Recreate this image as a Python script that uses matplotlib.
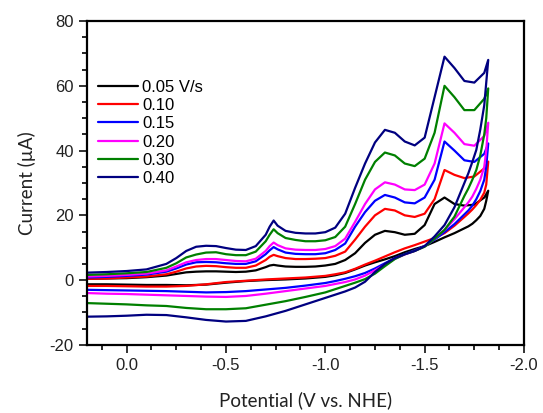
import matplotlib
matplotlib.use("Agg")
import matplotlib.pyplot as plt
from matplotlib.ticker import MultipleLocator, AutoMinorLocator

plt.rcParams['axes.unicode_minus'] = False
plt.rcParams['font.family'] = ['Liberation Sans', 'DejaVu Sans']

# forward scan (0.2 V -> -1.82 V)
x_fwd = [0.2, 0.1, 0.0, -0.1, -0.2, -0.25, -0.3, -0.35, -0.4, -0.45, -0.5,
         -0.55, -0.6, -0.65, -0.7, -0.72, -0.74, -0.76, -0.8, -0.85, -0.9,
         -0.95, -1.0, -1.05, -1.1, -1.15, -1.2, -1.25, -1.3, -1.35, -1.4,
         -1.45, -1.5, -1.55, -1.6, -1.65, -1.7, -1.75, -1.8, -1.82]

# reverse scan (-1.82 V -> 0.2 V)
x_rev = [-1.82, -1.81, -1.8, -1.78, -1.76, -1.74, -1.72, -1.7, -1.65, -1.6,
         -1.55, -1.5, -1.45, -1.4, -1.35, -1.3, -1.25, -1.2, -1.15, -1.1,
         -1.05, -1.0, -0.9, -0.8, -0.7, -0.6, -0.5, -0.4, -0.3, -0.2, -0.1,
         0.0, 0.1, 0.2]

labels = ["0.05 V/s", "0.10", "0.15", "0.20", "0.30", "0.40"]
colors = ["black", "#ff0000", "#0000ff", "#ff00ff", "#008000", "#000080"]

i_fwd_005 = [0.4, 0.5, 0.6, 0.9, 1.4, 1.9, 2.4, 2.6, 2.7, 2.7, 2.6, 2.5, 2.6,
             3.0, 4.0, 4.5, 4.7, 4.5, 4.2, 4.1, 4.1, 4.2, 4.5, 5.0, 6.2, 8.3,
             11.5, 14.0, 15.2, 14.8, 14.0, 14.3, 17.0, 23.5, 25.5, 23.5, 23.0,
             23.3, 25.5, 27.6]
i_fwd_010 = [0.4, 0.5, 0.8, 1.1, 1.8, 2.6, 3.6, 4.2, 4.4, 4.3, 4.0, 3.8, 3.8,
             4.5, 6.2, 7.2, 7.8, 7.4, 6.8, 6.5, 6.5, 6.6, 6.8, 7.5, 8.8, 12.5,
             16.5, 20.0, 22.0, 21.5, 20.0, 19.5, 20.5, 25.0, 34.0, 32.5, 31.5,
             32.0, 34.5, 36.6]
i_fwd_015 = [0.8, 1.0, 1.3, 1.7, 2.6, 3.6, 4.8, 5.5, 5.6, 5.5, 5.2, 5.0, 5.0,
             5.8, 8.0, 9.2, 10.2, 9.5, 8.5, 8.1, 8.0, 8.0, 8.3, 9.3, 11.3,
             16.5, 21.0, 24.5, 26.3, 25.5, 24.0, 23.7, 25.5, 31.0, 42.8, 40.0,
             37.0, 36.5, 39.0, 42.2]
i_fwd_020 = [1.1, 1.3, 1.6, 2.0, 3.0, 4.2, 5.5, 6.2, 6.5, 6.5, 6.2, 5.9, 5.8,
             6.6, 9.0, 10.5, 11.6, 10.8, 9.8, 9.4, 9.3, 9.3, 9.6, 10.5, 12.8,
             18.0, 23.5, 28.0, 30.2, 29.5, 28.0, 27.8, 29.5, 36.0, 48.4, 45.5,
             42.0, 41.5, 44.5, 48.6]
i_fwd_030 = [1.6, 1.8, 2.1, 2.5, 3.8, 5.2, 7.0, 7.9, 8.5, 8.6, 8.0, 7.7, 7.7,
             8.8, 12.0, 14.0, 15.7, 14.5, 13.0, 12.4, 12.0, 12.0, 12.3, 13.3,
             16.5, 23.5, 31.0, 36.5, 39.4, 38.5, 36.0, 35.2, 37.5, 45.5, 60.0,
             56.5, 52.5, 52.5, 56.0, 59.2]
i_fwd_040 = [2.3, 2.5, 2.8, 3.3, 5.0, 6.8, 9.0, 10.3, 10.6, 10.5, 9.9, 9.4,
             9.3, 10.5, 14.0, 16.5, 18.4, 16.8, 15.2, 14.6, 14.4, 14.4, 14.8,
             16.2, 20.5, 28.5, 36.0, 42.5, 46.4, 45.5, 42.8, 41.6, 44.0, 56.5,
             69.0, 65.5, 61.5, 61.0, 64.0, 68.0]

i_rev_005 = [27.6, 24.5, 22.0, 19.8, 18.5, 17.4, 16.6, 16.0, 14.5, 13.2, 11.8,
             10.5, 9.6, 8.6, 7.4, 6.4, 5.5, 4.5, 3.3, 2.2, 1.5, 1.0, 0.5, 0.2,
             0.0, -0.3, -0.8, -1.4, -1.6, -1.5, -1.5, -1.4, -1.3, -1.3]
i_rev_010 = [36.6, 29.5, 27.0, 24.8, 23.2, 21.8, 20.6, 19.5, 16.8, 14.5, 13.0,
             11.9, 10.8, 9.8, 8.6, 7.3, 6.0, 4.8, 3.5, 2.4, 1.8, 1.3, 0.8, 0.5,
             0.2, -0.2, -0.6, -1.3, -1.8, -2.0, -2.0, -1.9, -1.8, -1.8]
i_rev_015 = [42.2, 35.0, 31.0, 27.5, 25.0, 23.0, 21.5, 20.3, 17.3, 14.8, 12.5,
             10.5, 9.2, 8.0, 6.8, 5.2, 3.6, 2.2, 1.2, 0.4, -0.3, -0.9, -1.7,
             -2.4, -2.9, -3.4, -3.7, -3.8, -3.6, -3.4, -3.3, -3.2, -3.1, -3.0]
i_rev_020 = [48.6, 40.0, 35.0, 31.0, 28.2, 25.8, 24.0, 22.5, 18.8, 15.5, 12.8,
             10.4, 9.0, 7.9, 6.6, 4.8, 3.0, 1.4, 0.2, -0.6, -1.2, -1.8, -2.6,
             -3.4, -4.2, -4.9, -5.2, -5.1, -4.9, -4.7, -4.5, -4.3, -4.2, -4.0]
i_rev_030 = [59.2, 50.0, 45.0, 38.5, 34.0, 31.0, 28.3, 26.0, 19.6, 15.5, 12.8,
             10.3, 9.0, 8.0, 6.5, 4.3, 2.0, 0.3, -0.8, -1.8, -2.8, -3.8, -5.2,
             -6.5, -7.6, -8.7, -9.0, -9.0, -8.6, -8.0, -7.8, -7.5, -7.3, -7.1]
i_rev_040 = [68.0, 61.0, 54.0, 46.5, 40.2, 36.5, 33.0, 30.0, 22.5, 17.0, 13.5,
             10.5, 9.0, 8.0, 6.8, 5.0, 2.5, -0.5, -2.3, -3.5, -4.5, -5.5, -7.5,
             -9.5, -11.2, -12.6, -12.8, -12.3, -11.5, -10.8, -10.7, -11.0,
             -11.2, -11.3]

fwd = [i_fwd_005, i_fwd_010, i_fwd_015, i_fwd_020, i_fwd_030, i_fwd_040]
rev = [i_rev_005, i_rev_010, i_rev_015, i_rev_020, i_rev_030, i_rev_040]

fig = plt.figure(figsize=(5.43, 4.13), dpi=100)
ax = fig.add_axes([0.160, 0.165, 0.805, 0.784])

for lab, col, yf, yr in zip(labels, colors, fwd, rev):
    ax.plot(x_fwd + x_rev, yf + yr, color=col, lw=1.6, label=lab,
            solid_joinstyle='round', solid_capstyle='round')

ax.set_xlim(0.2, -2.0)
ax.set_ylim(-20, 80)
ax.xaxis.set_major_locator(MultipleLocator(0.5))
ax.xaxis.set_minor_locator(AutoMinorLocator(4))
ax.yaxis.set_major_locator(MultipleLocator(20))
ax.yaxis.set_minor_locator(AutoMinorLocator(4))
ax.xaxis.set_major_formatter(plt.FuncFormatter(lambda v, p: f"{v:.1f}"))
ax.tick_params(which='major', direction='out', length=6, width=1.3,
               labelsize=12, colors='#222222')
ax.tick_params(which='minor', direction='out', length=3.5, width=1.2)
for s in ax.spines.values():
    s.set_linewidth(1.6)

ax.set_xlabel("Potential (V vs. NHE)", fontsize=13.5, family='Lato',
              labelpad=13, color='#222222')
ax.set_ylabel("Current (\u00b5A)", fontsize=13.5, family='Lato',
              labelpad=10, color='#222222')

ax.legend(loc='upper left', bbox_to_anchor=(0.01, 0.84), frameon=False,
          fontsize=12, handlelength=2.4, handletextpad=0.25,
          labelspacing=0.2, borderaxespad=0.0)

fig.savefig("out.png", dpi=100)
